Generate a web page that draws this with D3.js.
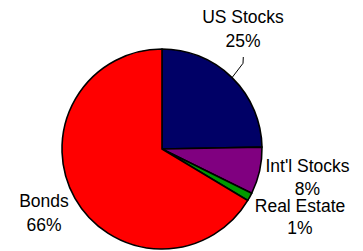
<!DOCTYPE html>
<html><head><meta charset="utf-8">
<script src="https://cdn.jsdelivr.net/npm/d3@7"></script>
<style>html,body{margin:0;padding:0;background:#fff;}</style>
</head><body><svg id="c" width="363" height="251"></svg>
<script>
const categories = ["US Stocks", "Int'l Stocks", "Real Estate", "Bonds"];
const values = [24.7, 7.6, 1.3, 66.4];
const pctLabels = ["25%", "8%", "1%", "66%"];
const colors = ["#000066", "#800080", "#009900", "#ff0000"];

const svg = d3.select("#c");
const cx = 162, cy = 149, r = 100;
const g = svg.append("g").attr("transform", `translate(${cx},${cy})`);
const pie = d3.pie().sort(null).value(d => d)
  .startAngle(0).endAngle(2 * Math.PI);
const arcs = pie(values);
const arc = d3.arc().innerRadius(0).outerRadius(r);
g.selectAll("path").data(arcs).join("path")
  .attr("d", arc)
  .attr("fill", (d, i) => colors[i])
  .attr("stroke", "#000").attr("stroke-width", 1.6)
  .attr("stroke-linejoin", "round");

const labelPos = [
  {x: 243, y1: 22.5, y2: 46.5},
  {x: 307.5, y1: 171.5, y2: 194.5},
  {x: 300, y1: 211.5, y2: 234},
  {x: 44, y1: 207, y2: 231}
];

// leader line for US Stocks
const a0 = arcs[0];
const mid = (a0.startAngle + a0.endAngle) / 2;
const ex = cx + r * Math.sin(mid), ey = cy - r * Math.cos(mid);
svg.append("path")
  .attr("d", `M${labelPos[0].x + 0.3},57 L${labelPos[0].x},63.3 L${ex},${ey}`)
  .attr("fill", "none").attr("stroke", "#000").attr("stroke-width", 1);

const lab = svg.append("g")
  .attr("font-family", "Liberation Sans, Arial, sans-serif")
  .attr("font-size", 17.5).attr("fill", "#000").attr("text-anchor", "middle");
categories.forEach((c, i) => {
  lab.append("text").attr("x", labelPos[i].x).attr("y", labelPos[i].y1).text(c);
  lab.append("text").attr("x", labelPos[i].x).attr("y", labelPos[i].y2).text(pctLabels[i]);
});
</script></body></html>
